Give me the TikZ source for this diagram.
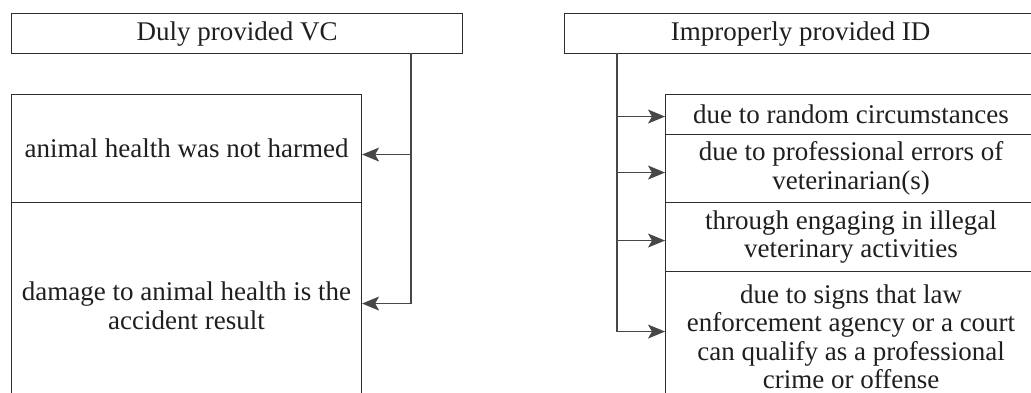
\documentclass[tikz,border=0pt]{standalone}
\usepackage{fontspec}
\setmainfont{Liberation Serif}
\usetikzlibrary{arrows.meta}
\begin{document}
\begin{tikzpicture}[x=1pt,y=-1pt,
  box/.style={draw=black!82, line width=1.1pt, rectangle, inner sep=0pt,
    anchor=north west, font=\fontsize{27}{28.5}\selectfont, align=center,
    text=black!88},
  feed/.style={draw=black!72, line width=1.2pt,
    -{Stealth[length=17pt,width=14pt,inset=4pt]}}]
\useasboundingbox (0,0) rectangle (1031,393);

% left group
\node[box, minimum width=451pt, minimum height=40pt] (duly) at (11,13) {Duly provided VC};
\node[box, minimum width=350pt, minimum height=108pt] (notharmed) at (11,94) {animal health was not harmed};
\node[box, minimum width=350pt, minimum height=206pt] (accident) at (11,202) {damage to animal health is the\\accident result};

\coordinate (lt) at (411,53);
\draw[feed] (lt) |- ([yshift=-6pt]notharmed.east);
\draw[feed] (lt) |- ([yshift=2pt]accident.east);

% right group
\node[box, minimum width=472pt, minimum height=40pt] (improper) at (564,13) {Improperly provided ID};
\node[box, minimum width=371pt, minimum height=40pt] (random) at (665,94) {due to random circumstances};
\node[box, minimum width=371pt, minimum height=68pt] (errors) at (665,134) {due to professional errors of\\veterinarian(s)};
\node[box, minimum width=371pt, minimum height=69pt] (illegal) at (665,202) {through engaging in illegal\\veterinary activities};
\node[box, minimum width=371pt, minimum height=130pt] (crime) at (665,271) {due to signs that law\\enforcement agency or a court\\can qualify as a professional\\crime or offense};

\coordinate (rt) at (617,53);
\draw[feed] (rt) |- ([yshift=-2pt]random.west);
\draw[feed] (rt) |- ([yshift=-4pt]errors.west);
\draw[feed] (rt) |- ([yshift=-3.5pt]illegal.west);
\draw[feed] (rt) |- ([yshift=5pt]crime.west);
\end{tikzpicture}
\end{document}
